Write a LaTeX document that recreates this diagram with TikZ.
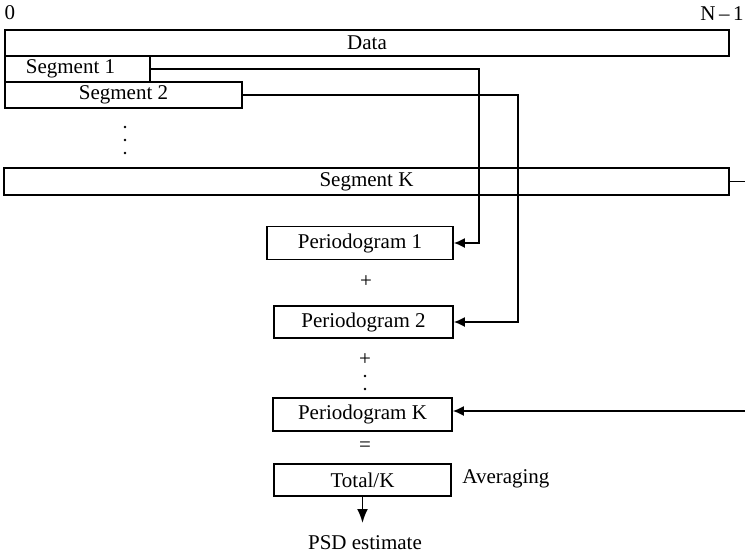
\documentclass[tikz,border=0pt]{standalone}
\usepackage{fontspec}
\setmainfont{Liberation Serif}
\usetikzlibrary{arrows.meta}
\begin{document}
\begin{tikzpicture}[x=0.5pt,y=-0.5pt,
  box/.style={draw,line width=0.8pt,inner sep=0pt,font=\fontsize{10.5}{12}\selectfont},
  lbl/.style={inner sep=0pt,font=\fontsize{10.5}{12}\selectfont},
  link/.style={line width=0.8pt},
  arr/.style={line width=0.8pt,-{Latex[length=5.5pt,width=5pt]}},
  bigarr/.style={line width=0.9pt,-{Latex[length=7pt,width=5.5pt]}},
  dot/.style={circle,fill,inner sep=0pt,minimum size=1.3pt}]
\useasboundingbox (0,0) rectangle (745,553);
% end labels of the data record
\node[lbl] (zero) at (10,13) {0};
\node[lbl] (nm1) at (722,14) {N\,–\,1};
% data record and its segments
\node[box,minimum width=362pt,minimum height=13pt] (data) at (367,43) {Data};
\node[box,minimum width=72.5pt,minimum height=13pt] (seg1) at (77.5,69) {\hspace*{-7pt}Segment 1};
\node[box,minimum width=118.5pt,minimum height=13pt] (seg2) at (123.5,95) {Segment 2};
\node[box,minimum width=362.5pt,minimum height=13.5pt] (segK) at (366.5,181.5) {Segment K};
\node[dot] (d1) at (125,127) {};
\node[dot] (d2) at (125,140) {};
\node[dot] (d3) at (125,153) {};
% periodograms
\node[box,minimum width=93pt,minimum height=16.5pt] (p1) at (360,243) {Periodogram 1};
\node[lbl] (plus1) at (366,282) {+};
\node[box,minimum width=89.5pt,minimum height=16pt] (p2) at (363.5,322) {Periodogram 2};
\node[lbl] (plus2) at (365,360) {+};
\node[dot] (d4) at (365,376) {};
\node[dot] (d5) at (365,389) {};
\node[box,minimum width=89.5pt,minimum height=16.5pt] (pK) at (362.5,414.5) {Periodogram K};
\node[lbl] (eq) at (365,447) {=};
\node[box,minimum width=88.5pt,minimum height=16pt] (tot) at (362.5,480) {Total/K};
\node[lbl,anchor=west] (avg) at (462,479) {Averaging};
\node[lbl] (psd) at (365,543) {PSD estimate};
% routing points
\coordinate (c1) at (479,0);
\coordinate (c2) at (518,0);
\coordinate (kout) at (745,181.5);
\coordinate (kin) at (745,411);
\coordinate (out) at (362.5,523);
% connectors
\draw[arr] (seg1.east) -- (seg1.east -| c1) -- (c1 |- p1.east) -- (p1.east);
\draw[arr] (seg2.east) -- (seg2.east -| c2) -- (c2 |- p2.east) -- (p2.east);
\draw[link] (segK.east) -- (kout);
\draw[arr] (kin) -- (pK.east |- kin);
\draw[bigarr] (tot.south) -- (out);
\end{tikzpicture}
\end{document}
